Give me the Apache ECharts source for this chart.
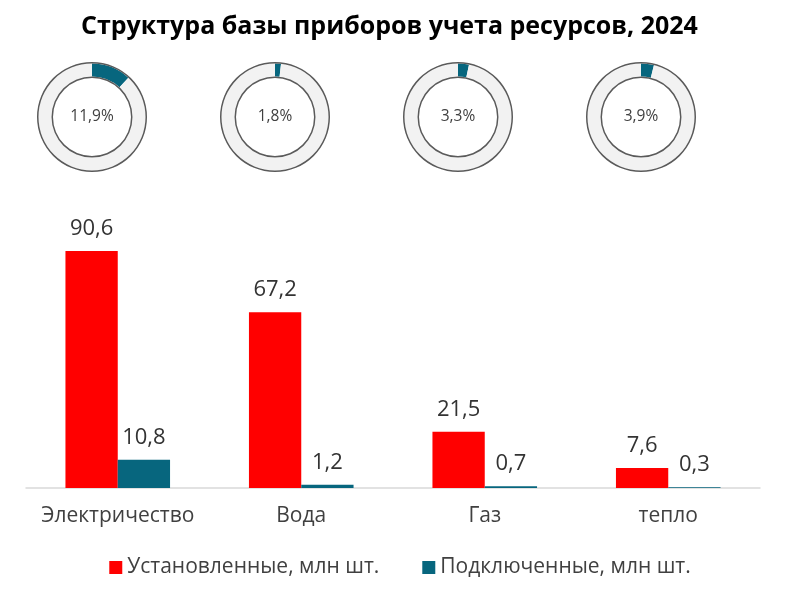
<!DOCTYPE html>
<html><head><meta charset="utf-8">
<script src="https://cdn.jsdelivr.net/npm/echarts@6/dist/echarts.min.js"></script>
<style>html,body{margin:0;padding:0;background:#fff}#c{width:800px;height:597px}</style>
</head><body><div id="c"></div>
<script>
const title = 'Структура базы приборов учета ресурсов, 2024';
const categories = ['Электричество', 'Вода', 'Газ', 'тепло'];
const installed = [90.6, 67.2, 21.5, 7.6];
const connected = [10.8, 1.2, 0.7, 0.3];
const sharePct = [11.9, 1.8, 3.3, 3.9];
const seriesNames = ['Установленные, млн шт.', 'Подключенные, млн шт.'];

const RED = '#ff0000', TEAL = '#07667e';
const FONT = 'Open Sans';
const fmt = v => String(v).replace('.', ',');

const donutCentersX = [92, 275, 458, 641];
const donutY = 117;

const barLabel = {show: true, position: 'top', distance: 11, color: '#333', fontSize: 22, fontFamily: FONT, formatter: p => fmt(p.value)};
const series = [
  {
    name: seriesNames[0], type: 'bar', data: installed, itemStyle: {color: RED},
    barGap: '0%', barCategoryGap: '43%', label: barLabel
  },
  {
    name: seriesNames[1], type: 'bar', data: connected, itemStyle: {color: TEAL}, label: barLabel
  }
];

sharePct.forEach((v, i) => {
  const c = [donutCentersX[i], donutY];
  series.push({
    type: 'pie', center: c, radius: [40.5, 53.5], silent: true, startAngle: 90, clockwise: true,
    label: {show: true, position: 'center', formatter: fmt(v) + '%', color: '#404040', fontSize: 15.5, fontFamily: FONT},
    labelLine: {show: false},
    data: [{value: v, itemStyle: {color: TEAL}}, {value: 100 - v, itemStyle: {color: '#f2f2f2'}, label: {show: false}}],
    emphasis: {disabled: true}
  });
  [[53.5, 55], [39, 40.5]].forEach(r => series.push({
    type: 'pie', center: c, radius: r, silent: true, label: {show: false}, labelLine: {show: false},
    data: [{value: 1, itemStyle: {color: '#5a5a5a'}}], emphasis: {disabled: true}
  }));
});

const chart = echarts.init(document.getElementById('c'));
chart.setOption({
  animation: false,
  title: {text: title, left: 76, top: 9, textStyle: {fontFamily: FONT, fontWeight: 'bold', fontSize: 25, color: '#000'}},
  legend: {
    data: seriesNames, top: 552, left: 'center', itemWidth: 13, itemHeight: 13, itemGap: 43, icon: 'rect',
    textStyle: {fontFamily: FONT, fontSize: 21, color: '#404040'}
  },
  grid: {left: 26, right: 40, top: 226.4, height: 261.6},
  xAxis: {
    type: 'category', data: categories,
    axisLine: {lineStyle: {color: '#d9d9d9', width: 1.5}}, axisTick: {show: false},
    axisLabel: {interval: 0, fontFamily: FONT, fontSize: 21, color: '#404040', margin: 18}
  },
  yAxis: {type: 'value', min: 0, max: 100, show: false, splitLine: {show: false}},
  series
});
</script></body></html>
